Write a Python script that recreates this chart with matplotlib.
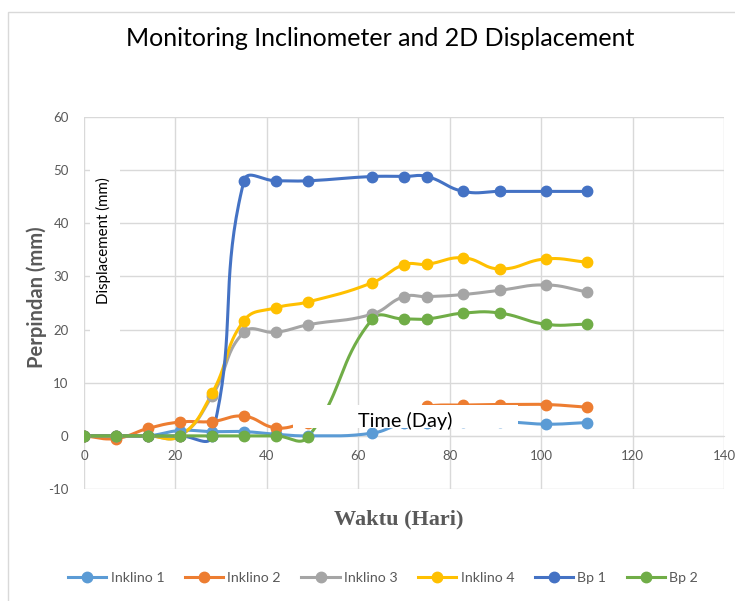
import numpy as np
import matplotlib
matplotlib.use("Agg")
import matplotlib.pyplot as plt
from matplotlib.patches import Rectangle


# ── data ───────────────────────────────────────────────────────────────────────
days = [0, 7, 14, 21, 28, 35, 42, 49, 63, 70, 75, 83, 91, 101, 110]

inklino_1 = [0, 0, 0, 1.0, 0.8, 0.8, 0.3, 0, 0.5, 2.4, 2.5, 2.6, 2.7, 2.2, 2.5]
inklino_2 = [0, -0.5, 1.4, 2.6, 2.7, 3.7, 1.5, 2.4, 3.0, 4.5, 5.6, 5.8, 5.9, 5.9, 5.4]
inklino_3 = [0, 0, 0, 0, 7.5, 19.5, 19.5, 20.9, 22.9, 26.2, 26.2, 26.6, 27.4, 28.4, 27.1]
inklino_4 = [0, 0, 0, 0, 8.0, 21.7, 24.1, 25.2, 28.8, 32.2, 32.3, 33.5, 31.4, 33.3, 32.7]
bp_1 = [0, 0, 0, 0, 0, 48.0, 48.0, 48.0, 48.8, 48.8, 48.8, 46.0, 46.0, 46.0, 46.0]
bp_2 = [0, 0, 0, 0, 0, 0, 0, -0.2, 21.9, 22.0, 22.0, 23.1, 23.1, 21.0, 21.0]

series_names = ["Inklino 1", "Inklino 2", "Inklino 3", "Inklino 4", "Bp 1", "Bp 2"]
series_vals = [inklino_1, inklino_2, inklino_3, inklino_4, bp_1, bp_2]
colors = ["#5B9BD5", "#ED7D31", "#A5A5A5", "#FFC000", "#4472C4", "#70AD47"]

x_ticks = [0, 20, 40, 60, 80, 100, 120, 140]
y_ticks = [-10, 0, 10, 20, 30, 40, 50, 60]

W, H = 735, 601
TEXT_GRAY = "#595959"
GRID = "#D9D9D9"
FONT = "Lato"
plt.rcParams["axes.unicode_minus"] = False

# pixels per data unit, used so the smoothing behaves like excel's (screen space)
PX_X = 640 / 140
PX_Y = 372 / 70
SMOOTH_K = 0.45


# ── excel-like smoothed line ───────────────────────────────────────────────────
def smooth(xs, ys, n=40):
    p = np.column_stack([np.asarray(xs) * PX_X, np.asarray(ys) * PX_Y]).astype(float)
    p = np.vstack([p[0], p, p[-1]])
    out = []
    t = np.linspace(0, 1, n)[:, None]
    for i in range(1, len(p) - 2):
        p0, p1, p2, p3 = p[i - 1], p[i], p[i + 1], p[i + 2]
        d01 = np.hypot(*(p1 - p0))
        d12 = np.hypot(*(p2 - p1))
        d23 = np.hypot(*(p3 - p2))
        f1 = SMOOTH_K * d12 / (d01 + d12) if d01 + d12 > 0 else 0
        f2 = SMOOTH_K * d12 / (d12 + d23) if d12 + d23 > 0 else 0
        c1 = p1 + (p2 - p0) * f1
        c2 = p2 - (p3 - p1) * f2
        seg = ((1 - t) ** 3) * p1 + 3 * ((1 - t) ** 2) * t * c1 \
            + 3 * (1 - t) * t ** 2 * c2 + t ** 3 * p2
        out.append(seg if i == 1 else seg[1:])
    out = np.vstack(out)
    return out[:, 0] / PX_X, out[:, 1] / PX_Y


def fx(px):
    return px / W


def fy(py):
    return 1 - py / H


fig = plt.figure(figsize=(W / 100, H / 100), dpi=100)
ax = fig.add_axes([fx(84), fy(489), fx(724) - fx(84), fy(117) - fy(489)])

for name, vals, col in zip(series_names, series_vals, colors):
    sx, sy = smooth(days, vals)
    ax.plot(sx, sy, color=col, lw=2.2, solid_capstyle="round", zorder=3)
    ax.plot(days, vals, linestyle="none", marker="o", ms=7.5, color=col, zorder=4)
    # legend proxy
    ax.plot([], [], color=col, lw=2.2, marker="o", ms=7.5, label=name)

ax.set_xlim(0, 140)
ax.set_ylim(-10, 60)
ax.set_xticks(x_ticks)
ax.set_yticks(y_ticks)
ax.grid(True, color=GRID, lw=1)
ax.set_axisbelow(True)
for s in ["top", "right", "left"]:
    ax.spines[s].set_visible(False)
ax.spines["bottom"].set_position(("data", 0))
ax.spines["bottom"].set_color(GRID)
ax.tick_params(length=0, labelcolor=TEXT_GRAY, labelsize=9.5)
ax.tick_params(axis="x", pad=10)
ax.tick_params(axis="y", pad=11)
for lab in ax.get_xticklabels() + ax.get_yticklabels():
    lab.set_family(FONT)

# outer chart border
fig.add_artist(Rectangle((fx(8), fy(640)), fx(760), fy(12) - fy(640),
                         transform=fig.transFigure, fill=False,
                         edgecolor=GRID, lw=1))

fig.text(fx(380), fy(38), "Monitoring Inclinometer and 2D Displacement",
         ha="center", va="center", fontsize=18, family=FONT, color="black")
fig.text(fx(37), fy(297), "Perpindan (mm)", rotation=90, ha="center",
         va="center", fontsize=14.5, fontweight="bold", family=FONT,
         color=TEXT_GRAY)
fig.text(fx(399), fy(519), "Waktu (Hari)", ha="center", va="center",
         fontsize=16, fontweight="bold", family="Liberation Serif",
         color=TEXT_GRAY)

# white boxes pasted over the chart
fig.add_artist(Rectangle((fx(90), fy(365)), fx(30), fy(160) - fy(365),
                         transform=fig.transFigure, facecolor="white",
                         edgecolor="none", zorder=10))
fig.text(fx(103), fy(241), "Displacement (mm)", rotation=90, ha="center",
         va="center", fontsize=10.8, family=FONT, color="black", zorder=11)
fig.add_artist(Rectangle((fx(293), fy(428)), fx(225), fy(405) - fy(428),
                         transform=fig.transFigure, facecolor="white",
                         edgecolor="none", zorder=10))
fig.text(fx(405), fy(421), "Time (Day)", ha="center", va="center",
         fontsize=14.3, family=FONT, color="black", zorder=11)

leg = fig.legend(loc="center", bbox_to_anchor=(fx(383), fy(578)), ncol=6,
                 frameon=False, handlelength=2.7, columnspacing=1.45,
                 handletextpad=0.3, prop={"family": FONT, "size": 10.2})
for t in leg.get_texts():
    t.set_color(TEXT_GRAY)

fig.savefig("out.png", dpi=100)
